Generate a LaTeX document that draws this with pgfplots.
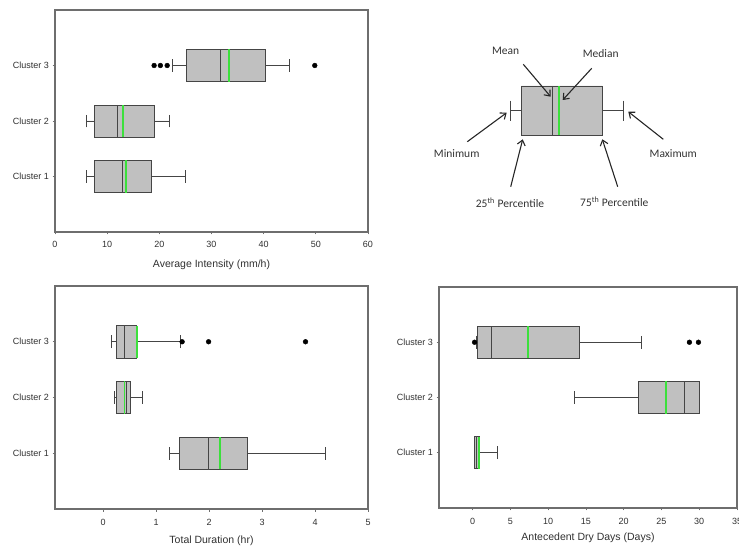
\documentclass[border=0pt]{standalone}
\usepackage{pgfplots}
\pgfplotsset{compat=1.18}
\usepgfplotslibrary{statistics}
\usetikzlibrary{arrows.meta}
\usepackage{fontspec}
\setmainfont{Liberation Sans}
\newfontfamily\calfont{Carlito}
\definecolor{axgray}{HTML}{6E6E6E}
\definecolor{txtgray}{HTML}{303030}
\definecolor{boxfill}{HTML}{C0C0C0}
\definecolor{boxedge}{HTML}{454545}
\definecolor{medgreen}{HTML}{3CE03C}
\pgfplotsset{
  clusterax/.style={
    scale only axis, enlargelimits=false, clip=false, anchor=north west,
    ymin=0, ymax=4, ytick={1,2,3}, yticklabels={Cluster 1,Cluster 2,Cluster 3},
    axis line style={axgray, line width=1.1pt},
    tick style={axgray, line width=0.8pt},
    tick align=outside, xtick pos=bottom, ytick pos=left,
    major tick length=2.5pt,
    tick label style={font=\fontsize{9}{10}\selectfont, text=txtgray},
    xticklabel style={yshift=-3pt},
    /pgf/number format/assume math mode=true,
    xlabel style={font=\fontsize{10.5}{12}\selectfont, text=txtgray, at={(axis description cs:0.5,0)}, anchor=center},
    boxplot/draw direction=x,
    boxplot/box extend=0.58,
    boxplot/whisker extend=0.23,
  },
  bx/.style={boxplot prepared={#1}, draw=boxedge, fill=boxfill, line width=0.8pt, solid},
  grn/.style={draw=medgreen, line width=1.6pt, solid, no marks},
  outl/.style={only marks, mark=*, mark size=2.4pt, black},
  ln/.style={draw=boxedge, line width=0.8pt, solid, no marks},
}
\tikzset{
  lbl/.style={font=\calfont\fontsize{11.5}{13}\selectfont, text=black!80},
  arr/.style={-{Straight Barb[length=5pt,width=8pt]}, line width=1.1pt, draw=black!85},
}
\begin{document}
\begin{tikzpicture}
\useasboundingbox (0,0) rectangle (739pt,-548pt);

% ---------- Top left: Average Intensity ----------
\begin{axis}[clusterax, at={(55pt,-10pt)}, width=313pt, height=222pt,
  xmin=0, xmax=60, xtick={0,10,...,60},
  xlabel={Average Intensity (mm/h)}, xlabel style={yshift=-33pt}]
\addplot[bx={draw position=1, lower whisker=6.1, lower quartile=7.6, median=13.0, upper quartile=18.5, upper whisker=25.0}] coordinates {};
\addplot[bx={draw position=2, lower whisker=6.1, lower quartile=7.6, median=11.9, upper quartile=19.0, upper whisker=22.0}] coordinates {};
\addplot[bx={draw position=3, lower whisker=22.5, lower quartile=25.1, median=31.7, upper quartile=40.3, upper whisker=45.0}] coordinates {};
\addplot[grn] coordinates {(13.6,0.71) (13.6,1.29)};
\addplot[grn] coordinates {(13.0,1.71) (13.0,2.29)};
\addplot[grn] coordinates {(33.4,2.71) (33.4,3.29)};
\addplot[outl] coordinates {(19.0,3) (20.2,3) (21.5,3) (49.8,3)};
\end{axis}

% ---------- Bottom left: Total Duration ----------
\begin{axis}[clusterax, at={(55pt,-286pt)}, width=313pt, height=223pt,
  xmin=-0.91, xmax=5, xtick={0,1,...,5}, xticklabel style={yshift=-1pt},
  xlabel={Total Duration (hr)}, xlabel style={yshift=-32pt}]
\addplot[bx={draw position=1, lower whisker=1.25, lower quartile=1.436, median=1.99, upper quartile=2.73, upper whisker=4.20}] coordinates {};
\addplot[bx={draw position=2, lower whisker=0.21, lower quartile=0.245, median=0.435, upper quartile=0.52, upper whisker=0.74}] coordinates {};
\addplot[bx={draw position=3, lower whisker=0.157, lower quartile=0.258, median=0.40, upper quartile=0.636, upper whisker=1.455}] coordinates {};
\addplot[grn] coordinates {(2.20,0.71) (2.20,1.29)};
\addplot[grn] coordinates {(0.40,1.71) (0.40,2.29)};
\addplot[grn] coordinates {(0.636,2.71) (0.636,3.29)};
\addplot[outl] coordinates {(1.49,3) (1.99,3) (3.82,3)};
\end{axis}

% ---------- Bottom right: Antecedent Dry Days ----------
\begin{axis}[clusterax, at={(439pt,-287pt)}, width=298pt, height=221pt,
  xmin=-4.45, xmax=35, xtick={0,5,...,35}, xticklabel style={yshift=-1pt},
  xlabel={Antecedent Dry Days (Days)}, xlabel style={yshift=-30pt}]
\addplot[bx={draw position=1, lower whisker=0.3, lower quartile=0.3, median=0.48, upper quartile=0.93, upper whisker=3.26}] coordinates {};
\addplot[bx={draw position=2, lower whisker=13.5, lower quartile=22.0, median=28.0, upper quartile=29.96, upper whisker=30.0}] coordinates {};
\addplot[bx={draw position=3, lower whisker=0.45, lower quartile=0.62, median=2.47, upper quartile=14.2, upper whisker=22.4}] coordinates {};
\addplot[grn] coordinates {(0.84,0.71) (0.84,1.29)};
\addplot[grn] coordinates {(25.6,1.71) (25.6,2.29)};
\addplot[grn] coordinates {(7.36,2.71) (7.36,3.29)};
\addplot[outl] coordinates {(0.26,3) (28.7,3) (29.9,3)};
\end{axis}

% ---------- Top right: legend diagram ----------
\begin{axis}[at={(380pt,0pt)}, anchor=north west, scale only axis, width=359pt, height=280pt,
  xmin=380, xmax=739, ymin=-280, ymax=0, hide axis, clip=false]
\addplot[ln, fill=boxfill] coordinates {(521.3,-86) (602.3,-86) (602.3,-135.4) (521.3,-135.4) (521.3,-86)};
\addplot[ln] coordinates {(510,-110.7) (521.3,-110.7)};
\addplot[ln] coordinates {(602.3,-110.7) (623.7,-110.7)};
\addplot[ln] coordinates {(510,-100.7) (510,-120.7)};
\addplot[ln] coordinates {(623.7,-100.7) (623.7,-120.7)};
\addplot[ln] coordinates {(552,-86) (552,-135.4)};
\addplot[draw=medgreen, line width=1.8pt] coordinates {(559.3,-86.5) (559.3,-134.9)};
\node[lbl] at (axis cs:505.7,-50.7) {Mean};
\node[lbl] at (axis cs:600.7,-54) {Median};
\node[lbl] at (axis cs:456.7,-154) {Minimum};
\node[lbl] at (axis cs:673.3,-154) {Maximum};
\node[lbl] at (axis cs:510,-202.7) {25\textsuperscript{th} Percentile};
\node[lbl] at (axis cs:614.3,-202) {75\textsuperscript{th} Percentile};
\draw[arr] (axis cs:523.3,-64.3) -- (axis cs:550.7,-96.7);
\draw[arr] (axis cs:591.7,-68.3) -- (axis cs:562.7,-100);
\draw[arr] (axis cs:467.3,-141.7) -- (axis cs:506.7,-112.7);
\draw[arr] (axis cs:663.3,-139.3) -- (axis cs:628.3,-111.7);
\draw[arr] (axis cs:510.7,-186.7) -- (axis cs:522.7,-139.3);
\draw[arr] (axis cs:617.7,-186.7) -- (axis cs:602.3,-139.3);
\end{axis}
\end{tikzpicture}
\end{document}
